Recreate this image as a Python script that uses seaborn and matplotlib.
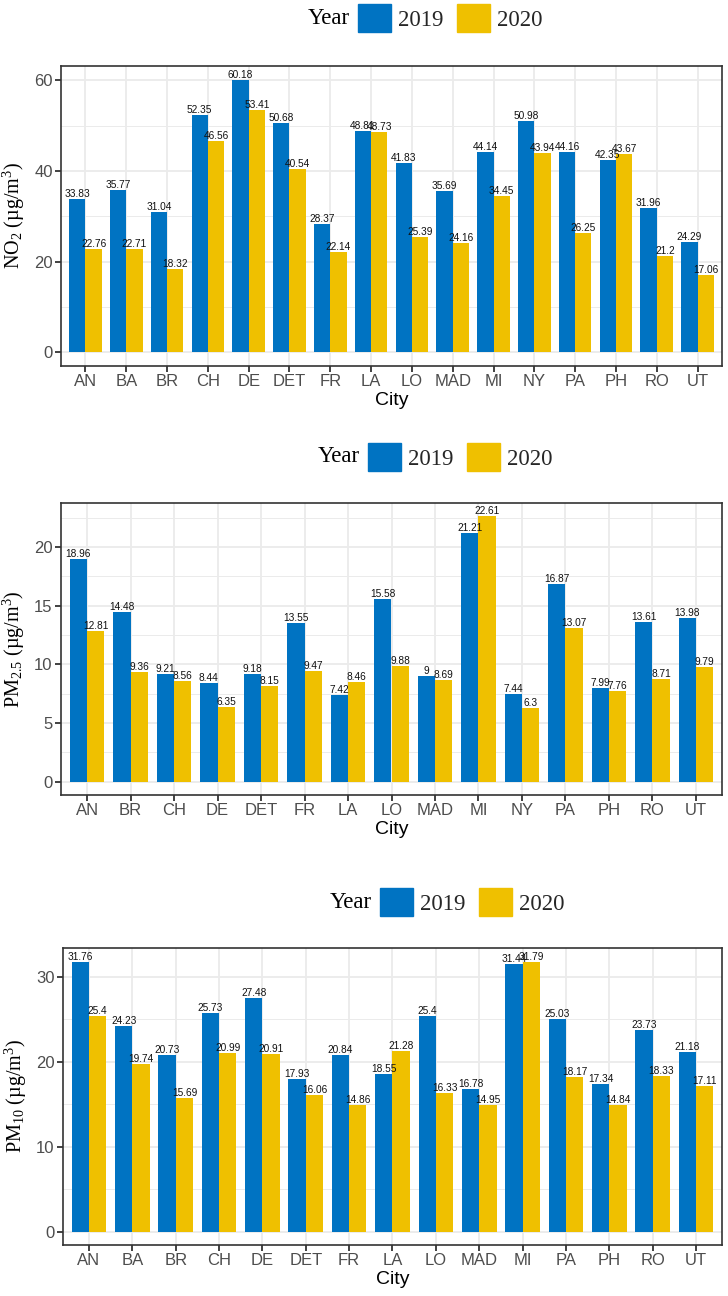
import matplotlib
matplotlib.use("Agg")
import matplotlib.pyplot as plt
from matplotlib.ticker import MultipleLocator
import seaborn as sns
import pandas as pd

# ---------------- data ----------------
years = ["2019", "2020"]

no2_cities = ["AN", "BA", "BR", "CH", "DE", "DET", "FR", "LA", "LO", "MAD", "MI", "NY", "PA", "PH", "RO", "UT"]
no2_2019 = [33.83, 35.77, 31.04, 52.35, 60.18, 50.68, 28.37, 48.81, 41.83, 35.69, 44.14, 50.98, 44.16, 42.35, 31.96, 24.29]
no2_2020 = [22.76, 22.71, 18.32, 46.56, 53.41, 40.54, 22.14, 48.73, 25.39, 24.16, 34.45, 43.94, 26.25, 43.67, 21.2, 17.06]

pm25_cities = ["AN", "BR", "CH", "DE", "DET", "FR", "LA", "LO", "MAD", "MI", "NY", "PA", "PH", "RO", "UT"]
pm25_2019 = [18.96, 14.48, 9.21, 8.44, 9.18, 13.55, 7.42, 15.58, 9, 21.21, 7.44, 16.87, 7.99, 13.61, 13.98]
pm25_2020 = [12.81, 9.36, 8.56, 6.35, 8.15, 9.47, 8.46, 9.88, 8.69, 22.61, 6.3, 13.07, 7.76, 8.71, 9.79]

pm10_cities = ["AN", "BA", "BR", "CH", "DE", "DET", "FR", "LA", "LO", "MAD", "MI", "PA", "PH", "RO", "UT"]
pm10_2019 = [31.76, 24.23, 20.73, 25.73, 27.48, 17.93, 20.84, 18.55, 25.4, 16.78, 31.44, 25.03, 17.34, 23.73, 21.18]
pm10_2020 = [25.4, 19.74, 15.69, 20.99, 20.91, 16.06, 14.86, 21.28, 16.33, 14.95, 31.79, 18.17, 14.84, 18.33, 17.11]

ylabels = [r"NO$\mathregular{_{2}}$ (µg/m$\mathregular{^{3}}$)",
           r"PM$\mathregular{_{2.5}}$ (µg/m$\mathregular{^{3}}$)",
           r"PM$\mathregular{_{10}}$ (µg/m$\mathregular{^{3}}$)"]
yticks = [[0, 20, 40, 60], [0, 5, 10, 15, 20], [0, 10, 20, 30]]
minor_steps = [10, 2.5, 5]

colors = ["#0073C2", "#EFC000"]

# ---------------- style ----------------
sns.set_theme(style="white")
plt.rcParams["font.family"] = ["Liberation Sans", "DejaVu Sans"]
plt.rcParams["mathtext.fontset"] = "custom"
plt.rcParams["mathtext.rm"] = "Liberation Serif"

W, H = 728, 1296
fig = plt.figure(figsize=(W / 100, H / 100), dpi=100)

# axes rectangles in pixels: left, top, right, bottom
rects = [(61, 66, 722, 366), (61, 503, 722, 795), (63, 948, 722, 1245)]
legend_shift = [0, 10, 22]
legend_y = [18, 457, 902]

panels = [
    (no2_cities, no2_2019, no2_2020),
    (pm25_cities, pm25_2019, pm25_2020),
    (pm10_cities, pm10_2019, pm10_2020),
]

for i, (cities, v19, v20) in enumerate(panels):
    l, t, r, b = rects[i]
    ax = fig.add_axes([l / W, 1 - b / H, (r - l) / W, (b - t) / H])
    df = pd.DataFrame({
        "City": cities * 2,
        "value": list(v19) + list(v20),
        "Year": [years[0]] * len(cities) + [years[1]] * len(cities),
    })
    sns.barplot(data=df, x="City", y="value", hue="Year", order=cities,
                hue_order=years, palette=colors, saturation=1, width=0.8,
                errorbar=None, ax=ax, zorder=3, linewidth=0)
    if ax.get_legend() is not None:
        ax.get_legend().remove()
    for cont, vals in zip(ax.containers, [v19, v20]):
        ax.bar_label(cont, labels=[f"{v:g}" for v in vals], padding=0,
                     fontsize=7.3, color="#111111", zorder=4)

    n = len(cities)
    ax.set_xlim(-0.6, n - 0.4)
    ymax = max(max(v19), max(v20))
    ax.set_ylim(-0.05 * ymax, 1.05 * ymax)
    ax.set_yticks(yticks[i])
    ax.yaxis.set_minor_locator(MultipleLocator(minor_steps[i]))
    ax.set_axisbelow(True)
    ax.grid(which="major", color="#EBEBEB", lw=1.3, zorder=0)
    ax.grid(which="minor", axis="y", color="#EBEBEB", lw=0.7, zorder=0)
    for s in ax.spines.values():
        s.set_color("#333333")
        s.set_linewidth(1.2)
        s.set_visible(True)
    ax.tick_params(which="major", direction="out", length=4, width=1.3,
                   color="#333333", labelsize=12, labelcolor="#4D4D4D",
                   left=True, bottom=True, pad=2)
    ax.tick_params(which="minor", length=0)
    ax.set_xlabel("City", fontsize=14, color="black", labelpad=2)
    ax.set_ylabel(ylabels[i], fontsize=14.5, family=["Liberation Serif", "DejaVu Serif"],
                  color="black")
    ax.yaxis.set_label_coords(-0.052, 0.5)

    # legend above the panel
    handles = [plt.Rectangle((0, 0), 1, 1, color=c) for c in colors]
    ly = 1 - legend_y[i] / H
    cx = (450 + legend_shift[i]) / W
    fig.legend(handles, years, loc="center", bbox_to_anchor=(cx, ly),
               ncol=2, frameon=False, handlelength=1.45, handleheight=1.45,
               handletextpad=0.3, columnspacing=0.6,
               prop={"family": ["Liberation Serif"], "size": 16.5})
    fig.text((350 + legend_shift[i]) / W, ly, "Year", ha="right", va="center",
             family=["Liberation Serif"], fontsize=16.5, color="black")

fig.savefig("out.png", dpi=100)
